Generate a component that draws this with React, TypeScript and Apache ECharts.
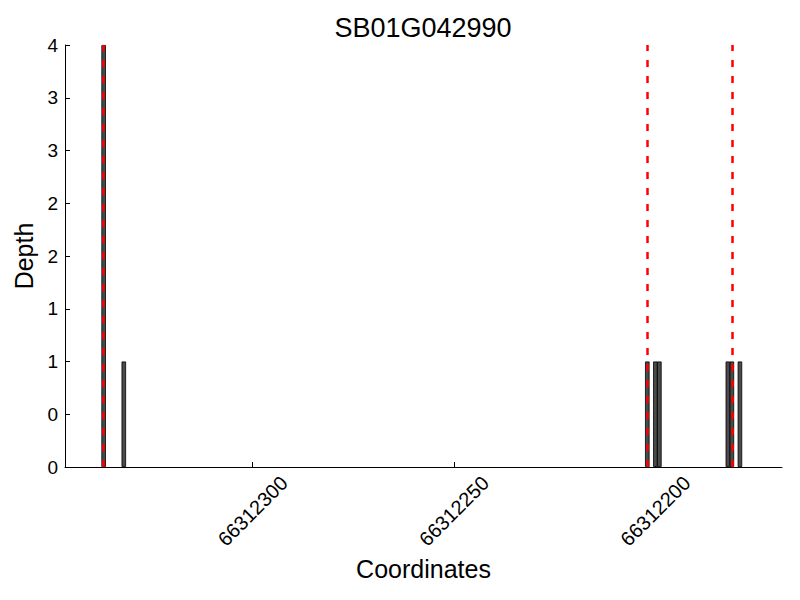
import React, { useEffect, useRef } from "react";
import * as echarts from "echarts";

const TITLE = "SB01G042990";
const X_NAME = "Coordinates";
const Y_NAME = "Depth";

// bar positions (genomic coordinate) and depths
const positions = [66312337, 66312332, 66312202, 66312200, 66312199, 66312182, 66312181, 66312179];
const depths = [4, 1, 1, 1, 1, 1, 1, 1];

// red dashed marker positions
const markers = [66312337, 66312202, 66312181];

// x tick labels
const xTicks = [66312300, 66312250, 66312200];
const X_MIN = 66312168.55;
const X_MAX = 66312346.6;

const FONT = "Liberation Sans, Arial, Helvetica, sans-serif";

export default function App() {
  const ref = useRef<HTMLDivElement>(null);
  useEffect(() => {
    if (!ref.current) return;
    const chart = echarts.init(ref.current, undefined, { renderer: "svg" });
    const data = positions.map((p, i) => [p, depths[i]]);
    chart.setOption({
      animation: false,
      backgroundColor: "#ffffff",
      textStyle: { fontFamily: FONT, color: "#000" },
      graphic: [
        {
          type: "text",
          x: 423,
          y: 28,
          style: {
            text: TITLE,
            font: `27px ${FONT}`,
            fill: "#000",
            textAlign: "center",
            textVerticalAlign: "middle",
          },
        },
      ],
      grid: { left: 65, right: 18, top: 45, bottom: 133, containLabel: false },
      xAxis: {
        type: "value",
        inverse: true,
        min: X_MIN,
        max: X_MAX,
        name: X_NAME,
        nameLocation: "middle",
        nameGap: 86,
        nameTextStyle: { fontSize: 25, color: "#000", fontFamily: FONT },
        axisLine: { show: true, lineStyle: { color: "#000", width: 1 } },
        axisTick: { show: true, inside: true, length: 5, customValues: xTicks, lineStyle: { color: "#000" } },
        axisLabel: {
          customValues: xTicks,
          rotate: 45,
          align: "center",
          verticalAlign: "middle",
          margin: 44,
          fontSize: 20,
          color: "#000",
          fontFamily: FONT,
          formatter: (v: number) => String(Math.round(v)),
        },
        splitLine: { show: false },
      },
      yAxis: {
        type: "value",
        min: 0,
        max: 4,
        interval: 0.5,
        name: Y_NAME,
        nameLocation: "middle",
        nameGap: 27,
        nameTextStyle: { fontSize: 25, color: "#000", fontFamily: FONT },
        axisLine: { show: true, lineStyle: { color: "#000", width: 1 } },
        axisTick: { show: true, inside: true, length: 5, lineStyle: { color: "#000" } },
        axisLabel: {
          fontSize: 19,
          color: "#000",
          margin: 7,
          fontFamily: FONT,
          formatter: (v: number) => String(Math.floor(v)),
        },
        splitLine: { show: false },
      },
      series: [
        {
          type: "bar",
          data,
          barWidth: 4.5,
          itemStyle: { color: "#4a4a4a", borderColor: "#000", borderWidth: 0.8 },
          markLine: {
            silent: true,
            symbol: ["none", "none"],
            label: { show: false },
            lineStyle: { color: "#ff0000", type: [7, 9], width: 2.5 },
            data: markers.map((m) => ({ xAxis: m })),
          },
        },
      ],
    });
    return () => chart.dispose();
  }, []);
  return (
    <div
      ref={ref}
      style={{ position: "absolute", left: 0, top: 0, width: 800, height: 600 }}
    />
  );
}
